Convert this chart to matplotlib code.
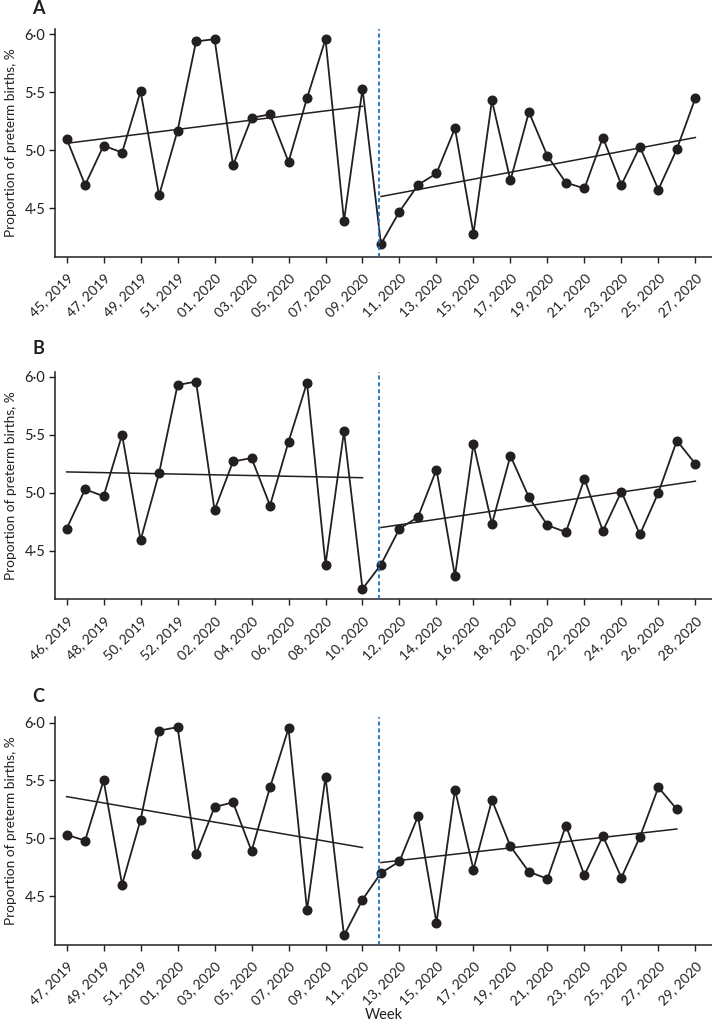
import matplotlib
matplotlib.use("Agg")
import matplotlib.pyplot as plt
import numpy as np

plt.rcParams['font.family'] = ['Lato', 'DejaVu Sans']

INK = '#231f20'
BLUE = '#1f6fc0'

# ---------------- data ----------------
weeks_a = [f"{w}, 2019" for w in range(45, 53)] + [f"{w:02d}, 2020" for w in range(1, 28)]
vals_a = [5.10, 4.70, 5.04, 4.98, 5.51, 4.61, 5.17, 5.94,
          5.96, 4.87, 5.28, 5.31, 4.90, 5.45, 5.96, 4.39, 5.53, 4.19,
          4.47, 4.70, 4.80, 5.19, 4.28, 5.43, 4.74, 5.33, 4.95, 4.72,
          4.67, 5.11, 4.70, 5.03, 4.66, 5.01, 5.45]
trend_pre_a = [5.06, 5.38]
trend_post_a = [4.60, 5.11]

weeks_b = [f"{w}, 2019" for w in range(46, 53)] + [f"{w:02d}, 2020" for w in range(1, 29)]
vals_b = [4.69, 5.03, 4.97, 5.50, 4.59, 5.17, 5.93,
          5.96, 4.85, 5.27, 5.30, 4.89, 5.44, 5.95, 4.38, 5.53, 4.17, 4.38,
          4.69, 4.79, 5.20, 4.28, 5.42, 4.73, 5.32, 4.96, 4.72, 4.66,
          5.12, 4.67, 5.01, 4.64, 5.00, 5.45, 5.25]
trend_pre_b = [5.18, 5.13]
trend_post_b = [4.70, 5.10]

weeks_c = [f"{w}, 2019" for w in range(47, 53)] + [f"{w:02d}, 2020" for w in range(1, 30)]
vals_c = [5.03, 4.98, 5.50, 4.60, 5.16, 5.93,
          5.96, 4.86, 5.27, 5.31, 4.89, 5.44, 5.95, 4.38, 5.53, 4.16, 4.47,
          4.70, 4.80, 5.19, 4.27, 5.42, 4.73, 5.33, 4.93, 4.71, 4.65,
          5.11, 4.68, 5.02, 4.66, 5.01, 5.44, 5.25]
trend_pre_c = [5.36, 4.92]
trend_post_c = [4.79, 5.08]

pre_end_idx = 16          # last pre-lockdown point index in each panel
post_start_idx = 17
lockdown_pos = 16.88      # position of the dashed vertical line

yticks = [4.5, 5.0, 5.5, 6.0]
ytick_labels = ["4·5", "5·0", "5·5", "6·0"]

panels = [
    ("A", weeks_a, vals_a, trend_pre_a, trend_post_a),
    ("B", weeks_b, vals_b, trend_pre_b, trend_post_b),
    ("C", weeks_c, vals_c, trend_pre_c, trend_post_c),
]

fig = plt.figure(figsize=(7.12, 10.24), dpi=100)
axes_rects = [
    [0.0772, 0.7493, 0.9228, 0.2221],
    [0.0772, 0.4147, 0.9228, 0.2223],
    [0.0772, 0.0774, 0.9228, 0.2221],
]
letter_y = [1 - 8 / 1024, 1 - 349 / 1024, 1 - 697 / 1024]

for (letter, weeks, vals, tpre, tpost), rect, ly in zip(panels, axes_rects, letter_y):
    ax = fig.add_axes(rect)
    x = np.arange(len(vals))
    ax.plot(x, vals, color=INK, lw=1.3, marker='o', ms=6.2, mfc=INK, mec=INK, zorder=3)
    ax.plot([0, pre_end_idx], tpre, color=INK, lw=1.1, zorder=2)
    ax.plot([post_start_idx, len(vals) - 1], tpost, color=INK, lw=1.1, zorder=2)
    ax.axvline(lockdown_pos, color=BLUE, lw=1.3, ls=(0, (2.2, 1.6)), zorder=4)

    ax.set_xlim(-0.63, 34.9)
    ax.set_ylim(4.08, 6.045)
    ticks = np.arange(0, len(weeks), 2)
    ax.set_xticks(ticks)
    ax.set_xticklabels([weeks[i] for i in ticks], rotation=45, ha='right',
                       rotation_mode='anchor', fontsize=10, color=INK)
    ax.set_yticks(yticks)
    ax.set_yticklabels(ytick_labels, fontsize=10.5, color=INK)
    ax.tick_params(axis='both', direction='out', length=4, width=1, color=INK, pad=3)
    ax.tick_params(axis='x', pad=7)
    for s in ['top', 'right']:
        ax.spines[s].set_visible(False)
    for s in ['left', 'bottom']:
        ax.spines[s].set_color(INK)
        ax.spines[s].set_linewidth(1.1)
    ax.set_ylabel("Proportion of preterm births, %", fontsize=9.8, color=INK, labelpad=5)
    fig.text(38 / 712, ly, letter, fontsize=13, fontweight='bold', color=INK,
             ha='center', va='center')
    if letter == "C":
        fig.text(0.0772 + 0.9228 / 2, 1 - 1015 / 1024, "Week", fontsize=10.5,
                 color=INK, ha='center', va='center')

fig.savefig("out.png", dpi=100)
